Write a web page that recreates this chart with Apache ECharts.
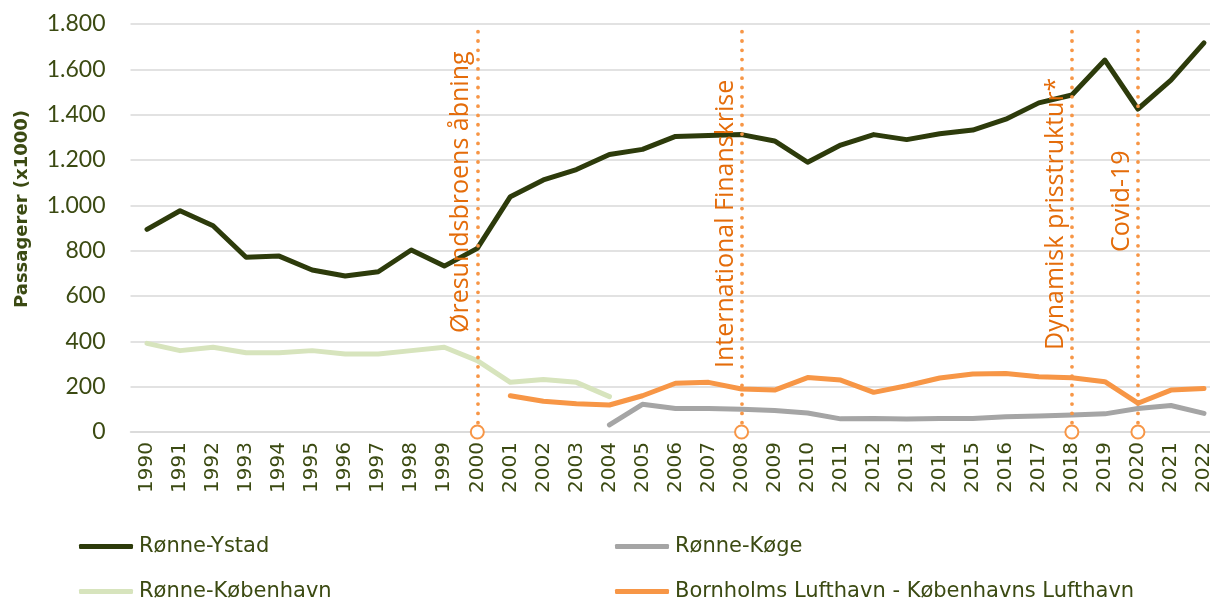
<!DOCTYPE html>
<html>
<head>
<meta charset="utf-8">
<script src="https://cdn.jsdelivr.net/npm/echarts@6/dist/echarts.min.js"></script>
<style>
html,body{margin:0;padding:0;background:#fff;overflow:hidden;}
#chart{width:1225px;height:603px;}
</style>
</head>
<body>
<div id="chart"></div>
<script>
// ---- Data ----
const years = ['1990','1991','1992','1993','1994','1995','1996','1997','1998','1999',
  '2000','2001','2002','2003','2004','2005','2006','2007','2008','2009',
  '2010','2011','2012','2013','2014','2015','2016','2017','2018','2019',
  '2020','2021','2022'];

const ronneYstad = [894,976,910,771,776,715,688,707,803,732,
  810,1038,1112,1158,1224,1247,1304,1308,1312,1284,
  1190,1266,1312,1290,1316,1332,1380,1452,1487,1641,
  1425,1552,1717];

const ronneKoge = [null,null,null,null,null,null,null,null,null,null,
  null,null,null,null,31,122,104,104,100,95,
  84,58,60,57,60,60,67,71,75,80,
  104,117,82];

const ronneKobenhavn = [391,359,374,350,350,359,344,344,359,374,
  315,219,232,219,156,null,null,null,null,null,
  null,null,null,null,null,null,null,null,null,null,
  null,null,null];

const bornholmLufthavn = [null,null,null,null,null,null,null,null,null,null,
  null,160,136,125,119,160,215,219,190,185,
  240,229,175,204,238,256,258,244,239,222,
  127,185,192];

const seriesNames = ['Rønne-Ystad','Rønne-Køge','Rønne-København','Bornholms Lufthavn - Københavns Lufthavn'];

const eventYears = ['2000','2008','2018','2020'];
const eventLabels = ['Øresundsbroens åbning','International Finanskrise','Dynamisk prisstruktur*','Covid-19'];

const yTicks = [0,200,400,600,800,1000,1200,1400,1600,1800];
const yAxisTitle = 'Passagerer (x1000)';

// ---- Styling / layout ----
const textColor = '#3B4A12';
const eventColor = '#F79646';
const eventTextColor = '#E46C0A';
const labelBottoms = [333, 368, 350, 252];

const chart = echarts.init(document.getElementById('chart'), null, {renderer:'canvas'});

function fmtThousands(v){
  return String(v).replace(/\B(?=(\d{3})+(?!\d))/g, '.');
}

const legendPos = [
  {left: 79, top: 536},
  {left: 615, top: 536},
  {left: 79, top: 581},
  {left: 615, top: 581}
];
const legendColors = ['#2D3B0B','#A5A5A5','#D7E4BD',eventColor];

const legends = seriesNames.map((n,i)=>({
  data:[n],
  left: legendPos[i].left,
  top: legendPos[i].top,
  orient:'horizontal',
  icon:'roundRect',
  itemWidth:54,
  itemHeight:5,
  itemGap:0,
  padding:0,
  selectedMode:false,
  textStyle:{color:textColor, fontFamily:'DejaVu Sans', fontSize:21, padding:[0,0,0,1]}
}));

const option = {
  animation:false,
  backgroundColor:'#ffffff',
  legend: legends,
  grid:{left:130.5, top:24, width:1090, height:408, containLabel:false},
  xAxis:{
    type:'category',
    data:years,
    boundaryGap:true,
    axisLine:{show:true, lineStyle:{color:'#D9D9D9', width:1.5}},
    axisTick:{show:false},
    axisLabel:{
      rotate:90, interval:0, margin:10,
      color:textColor, fontFamily:'DejaVu Sans', fontSize:20
    },
    splitLine:{show:false}
  },
  yAxis:{
    type:'value',
    min:yTicks[0], max:yTicks[yTicks.length-1], interval:200,
    axisLine:{show:false},
    axisTick:{show:false},
    axisLabel:{
      margin:25, color:textColor, fontFamily:'Lato', fontSize:23,
      formatter:v=>fmtThousands(v)
    },
    splitLine:{show:true, lineStyle:{color:'#D9D9D9', width:1.5}}
  },
  series:[
    {
      name:seriesNames[2], type:'line', data:ronneKobenhavn,
      showSymbol:false, symbol:'none', connectNulls:false,
      lineStyle:{color:legendColors[2], width:5, join:'round', cap:'round'},
      itemStyle:{color:legendColors[2]}, z:2,
      markLine:{
        silent:true,
        symbol:['none','none'],
        label:{show:false},
        lineStyle:{color:eventColor, width:3.8, type:[0.01,9.3], cap:'round'},
        data: eventYears.map(y=>({xAxis:y}))
      }
    },
    {
      name:seriesNames[1], type:'line', data:ronneKoge,
      showSymbol:false, symbol:'none',
      lineStyle:{color:legendColors[1], width:5, join:'round', cap:'round'},
      itemStyle:{color:legendColors[1]}, z:2
    },
    {
      name:seriesNames[3], type:'line', data:bornholmLufthavn,
      showSymbol:false, symbol:'none',
      lineStyle:{color:legendColors[3], width:5, join:'round', cap:'round'},
      itemStyle:{color:legendColors[3]}, z:3
    },
    {
      name:seriesNames[0], type:'line', data:ronneYstad,
      showSymbol:false, symbol:'none',
      lineStyle:{color:legendColors[0], width:5, join:'round', cap:'round'},
      itemStyle:{color:legendColors[0]}, z:4
    },
    {
      name:'events',
      type:'scatter',
      data: eventYears.map(y=>[y,0]),
      symbol:'circle',
      symbolSize:13,
      itemStyle:{color:'#ffffff', borderColor:eventColor, borderWidth:2, opacity:1},
      z:6,
      silent:true
    }
  ]
};

chart.setOption(option);

// Annotation texts and the y-axis title, positioned via the chart's own scales
const graphics = eventYears.map((y,i)=>{
  const px = chart.convertToPixel({xAxisIndex:0}, y);
  return {
    type:'text',
    x: px - 16,
    y: labelBottoms[i],
    rotation: Math.PI/2,
    z: 10,
    silent:true,
    style:{
      text: eventLabels[i],
      fill: eventTextColor,
      font: '25px "Open Sans"',
      textAlign:'left',
      textVerticalAlign:'middle'
    }
  };
});
graphics.push({
  type:'text',
  x: 22,
  y: 209,
  rotation: Math.PI/2,
  silent:true,
  style:{
    text: yAxisTitle,
    fill: textColor,
    font: 'bold 18px "DejaVu Sans"',
    textAlign:'center',
    textVerticalAlign:'middle'
  }
});
chart.setOption({graphic: graphics});
</script>
</body>
</html>
